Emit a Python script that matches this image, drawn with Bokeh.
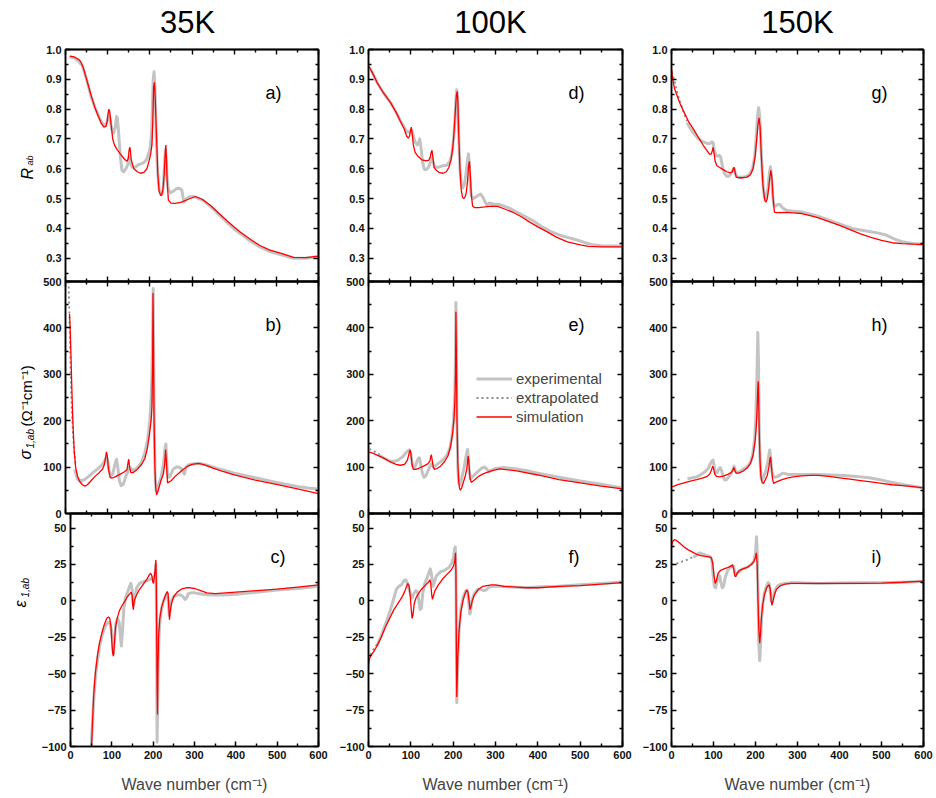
from math import pi
from bokeh.plotting import figure
from bokeh.layouts import column, row
from bokeh.models import (LinearAxis, FixedTicker, Label, Legend, LegendItem,
                          Range1d, NumeralTickFormatter)
from bokeh.embed import file_html
from bokeh.resources import INLINE

# ------------------------------------------------------------------ data
# 35 K  reflectivity R_ab
R35_SIM_X = [10, 20, 30, 36, 42, 48, 55, 62, 70, 78, 85, 91, 96, 99, 101, 103, 105, 108, 112, 116, 122, 130, 140,
             146, 149, 151, 153, 156, 162, 170, 178, 186, 193, 198, 202, 205, 207, 209, 211, 213, 216, 219, 222,
             226, 228, 231, 234, 236, 238, 239.5, 241, 244, 250, 260, 275, 290, 308, 325, 344, 363, 383, 400, 415,
             440, 462, 485, 510, 541, 570, 600]
R35_SIM_Y = [0.978, 0.975, 0.968, 0.96, 0.94, 0.91, 0.875, 0.84, 0.805, 0.775, 0.752, 0.74, 0.742, 0.76, 0.785,
             0.80, 0.79, 0.75, 0.70, 0.68, 0.665, 0.65, 0.632, 0.625, 0.635, 0.665, 0.672, 0.63, 0.60, 0.59, 0.585,
             0.588, 0.60, 0.625, 0.65, 0.68, 0.76, 0.875, 0.89, 0.83, 0.70, 0.58, 0.525, 0.51, 0.512, 0.53, 0.58,
             0.64, 0.68, 0.63, 0.56, 0.495, 0.485, 0.484, 0.488, 0.497, 0.507, 0.497, 0.477, 0.452, 0.426, 0.405,
             0.387, 0.362, 0.342, 0.327, 0.317, 0.303, 0.302, 0.307]
R35_EXP_X = [10, 20, 30, 40, 50, 60, 70, 80, 88, 94, 98, 101, 103, 106, 110, 114, 118, 121, 123, 126, 130, 134,
             138, 143, 148, 151, 154, 158, 165, 175, 185, 192, 197, 201, 204, 206, 208, 210, 212, 215, 218, 222,
             226, 229, 232, 235, 237, 239, 241, 244, 249, 256, 263, 270, 276, 279, 281, 285, 292, 305, 325, 344,
             363, 383, 400, 420, 440, 462, 485, 510, 540, 570, 600]
R35_EXP_Y = [0.975, 0.972, 0.962, 0.945, 0.90, 0.845, 0.805, 0.772, 0.75, 0.745, 0.755, 0.775, 0.785, 0.765,
             0.73, 0.72, 0.74, 0.775, 0.77, 0.72, 0.64, 0.595, 0.59, 0.60, 0.615, 0.64, 0.62, 0.605, 0.605, 0.615,
             0.62, 0.63, 0.65, 0.67, 0.72, 0.80, 0.90, 0.925, 0.88, 0.72, 0.60, 0.53, 0.515, 0.515, 0.54, 0.62,
             0.665, 0.63, 0.57, 0.53, 0.52, 0.525, 0.533, 0.535, 0.528, 0.50, 0.488, 0.497, 0.505, 0.507, 0.495,
             0.474, 0.448, 0.42, 0.398, 0.377, 0.356, 0.337, 0.322, 0.312, 0.300, 0.300, 0.305]

# 35 K  conductivity sigma_1,ab
S35_SIM_X = [9.5, 11, 13, 15, 17, 19, 21, 24, 28, 33, 40, 46, 52, 60, 70, 80, 88, 92, 95, 97, 99, 102, 106, 110,
             120, 130, 140, 146, 148, 150, 152, 155, 160, 170, 180, 188, 194, 199, 203, 205, 206.5, 207.5, 208.5,
             210, 212, 214, 216, 220, 226, 232, 235, 237.5, 240, 242, 250, 260, 270, 280, 290, 300, 315, 330, 350,
             375, 400, 450, 500, 550, 600]
S35_SIM_Y = [430, 400, 340, 270, 210, 165, 130, 100, 82, 70, 62, 59, 62, 70, 80, 88, 96, 105, 120, 133, 125, 95,
             78, 76, 80, 85, 90, 95, 108, 117, 100, 88, 88, 95, 105, 118, 140, 170, 200, 230, 320, 475, 390, 200,
             100, 55, 40, 50, 70, 85, 105, 138, 100, 66, 70, 80, 88, 96, 102, 106, 108, 105, 98, 90, 83, 72, 63, 53,
             43]
S35_EXP_X = [22, 28, 35, 45, 55, 65, 75, 85, 92, 96, 99, 103, 107, 112, 117, 121, 124, 128, 132, 137, 143, 148,
             152, 160, 170, 180, 188, 195, 200, 203, 205, 207, 208, 209, 211, 213, 215, 218, 222, 227, 232, 236,
             238, 240, 243, 248, 255, 262, 268, 273, 278, 282, 286, 292, 305, 320, 340, 360, 380, 400, 450, 500,
             550, 575, 600]
S35_EXP_Y = [95, 75, 70, 73, 80, 88, 95, 103, 112, 120, 118, 95, 80, 85, 105, 117, 100, 70, 60, 63, 80, 90, 100,
             92, 98, 110, 130, 160, 200, 250, 300, 420, 485, 350, 150, 70, 50, 55, 65, 80, 105, 140, 150, 110, 78,
             80, 95, 100, 100, 98, 92, 85, 100, 105, 107, 108, 103, 97, 92, 87, 77, 67, 58, 55, 53]
S35_EXT_X = [7, 8, 9.5, 11, 13, 16, 20, 24]
S35_EXT_Y = [500, 470, 420, 350, 270, 200, 140, 105]

# 35 K  dielectric function eps_1,ab
E35_SIM_X = [51, 53, 56, 60, 65, 70, 76, 82, 88, 92, 95, 98, 100, 102, 104, 106, 109, 113, 118, 125, 132, 138,
             144, 147, 149, 150.5, 152, 154, 158, 165, 175, 185, 191, 194, 197, 199, 201, 203, 205, 206.5, 207.5,
             208.5, 209.5, 210.5, 211.5, 213, 216, 220, 225, 230, 234, 236, 238, 239.5, 241, 244, 250, 258, 268,
             280, 290, 300, 315, 330, 350, 375, 400, 450, 500, 550, 600]
E35_SIM_Y = [-100, -85, -65, -50, -38, -29, -22, -16, -12, -11, -12, -18, -28, -36, -38, -30, -18, -12, -7, -3, 0,
             3, 5, 6, 4, -3, -6, 0, 3, 7, 11, 15, 18, 19, 17, 13, 12, 17, 22, 28, 15, -20, -60, -78, -50, -25, -12,
             -5, 0, 4, 6.5, 5, -5, -13, -8, -2, 3, 6, 8, 9, 9, 8.5, 7, 5.5, 5, 5.5, 6, 7, 8, 9.5, 11]
E35_EXP_X = [50, 54, 58, 63, 70, 78, 85, 90, 95, 99, 102, 104, 107, 110, 114, 118, 121, 123, 126, 129, 133, 138,
             143, 146, 149, 151, 153, 156, 160, 167, 175, 185, 195, 200, 203, 205, 206.5, 207.5, 208.5, 209.5,
             210.5, 212, 214, 217, 222, 228, 233, 235, 237, 239, 241, 244, 250, 258, 266, 272, 277, 281, 285, 292,
             300, 320, 340, 370, 400, 450, 500, 550, 600]
E35_EXP_Y = [-100, -80, -60, -45, -32, -22, -17, -15, -15, -20, -30, -36, -25, -15, -12, -15, -25, -31, -20, -5, 2,
             6, 10, 12, 8, 0, -3, 3, 9, 12, 13, 14, 15, 16, 15, 20, 25, 5, -40, -97, -80, -45, -25, -12, -3, 2, 5,
             4, -2, -10, -6, 0, 3, 4, 4, 3, 1, 2, 5, 5.5, 5.5, 4.5, 4, 4, 4.5, 6, 7.5, 8.5, 10]

# 100 K  reflectivity
R100_SIM_X = [0, 10, 20, 35, 52, 65, 75, 84, 90, 94, 97, 99, 101, 103, 106, 110, 118, 126, 134, 142, 146, 148, 150,
              152, 155, 160, 168, 176, 184, 190, 195, 199, 202, 205, 207.5, 209.5, 211, 213, 216, 219, 222, 225,
              228, 231, 234, 236.5, 238.5, 240.5, 243, 246, 250, 260, 275, 290, 305, 320, 340, 360, 380, 400, 420,
              445, 470, 500, 520, 550, 600]
R100_SIM_Y = [0.945, 0.92, 0.89, 0.855, 0.822, 0.79, 0.76, 0.735, 0.71, 0.703, 0.71, 0.725, 0.74, 0.72, 0.68,
              0.655, 0.64, 0.63, 0.627, 0.628, 0.64, 0.655, 0.662, 0.64, 0.605, 0.595, 0.587, 0.585, 0.59, 0.605,
              0.63, 0.67, 0.72, 0.79, 0.845, 0.86, 0.83, 0.72, 0.60, 0.53, 0.505, 0.50, 0.505, 0.52, 0.56, 0.61,
              0.625, 0.58, 0.51, 0.475, 0.47, 0.47, 0.472, 0.475, 0.474, 0.466, 0.455, 0.44, 0.422, 0.405, 0.39,
              0.37, 0.355, 0.345, 0.34, 0.338, 0.338]
R100_EXP_X = [0, 10, 20, 35, 52, 65, 75, 84, 90, 95, 99, 102, 106, 110, 115, 119, 121, 124, 128, 132, 137, 142,
              147, 150, 153, 157, 165, 175, 185, 192, 197, 201, 204, 206, 208.5, 210.5, 213, 216, 219, 222, 226,
              230, 233, 236, 238, 240, 243, 247, 253, 260, 265, 270, 275, 280, 285, 295, 310, 330, 350, 370, 390,
              410, 430, 450, 470, 490, 510, 530, 550, 575, 600]
R100_EXP_Y = [0.945, 0.92, 0.89, 0.855, 0.823, 0.79, 0.762, 0.74, 0.725, 0.722, 0.728, 0.73, 0.71, 0.69, 0.68,
              0.69, 0.70, 0.67, 0.62, 0.598, 0.598, 0.605, 0.625, 0.635, 0.62, 0.605, 0.605, 0.61, 0.612, 0.625,
              0.65, 0.70, 0.76, 0.82, 0.865, 0.84, 0.72, 0.60, 0.55, 0.535, 0.545, 0.58, 0.62, 0.65, 0.62, 0.55,
              0.51, 0.50, 0.505, 0.512, 0.515, 0.505, 0.49, 0.478, 0.485, 0.482, 0.48, 0.47, 0.455, 0.44, 0.425,
              0.405, 0.39, 0.378, 0.37, 0.362, 0.353, 0.345, 0.342, 0.341, 0.341]

# 100 K  conductivity
S100_SIM_X = [0, 10, 20, 35, 50, 65, 75, 85, 92, 96, 98, 100, 103, 106, 112, 120, 130, 140, 145, 147, 148.5, 150,
              153, 156, 162, 170, 180, 188, 194, 199, 202, 204, 205.5, 206.5, 207.5, 209, 211, 213, 215, 217, 220,
              225, 229, 232, 234, 235.5, 237.5, 240, 243, 250, 260, 272, 290, 310, 350, 400, 450, 500, 550, 600]
S100_SIM_Y = [133, 130, 126, 120, 112, 106, 104, 106, 115, 130, 137, 130, 105, 95, 95, 98, 102, 107, 113, 122, 127,
              118, 100, 95, 97, 102, 112, 125, 145, 175, 205, 240, 300, 435, 350, 200, 110, 70, 55, 50, 55, 70, 82,
              95, 112, 124, 105, 75, 67, 72, 80, 86, 92, 96, 92, 83, 73, 66, 59, 53]
S100_EXP_X = [24, 35, 50, 60, 70, 80, 88, 93, 97, 100, 104, 108, 113, 117, 120, 123, 127, 131, 136, 142, 147, 150,
              153, 157, 165, 175, 185, 192, 197, 201, 204, 205.5, 206.5, 207.5, 209, 211, 213, 216, 220, 225, 229,
              232, 234, 236, 238, 241, 245, 252, 260, 268, 275, 280, 285, 290, 300, 320, 350, 375, 400, 450, 500,
              530, 550, 575, 600]
S100_EXP_Y = [126, 120, 113, 112, 115, 122, 130, 135, 137, 128, 102, 97, 108, 118, 120, 108, 88, 78, 82, 95, 105,
              108, 100, 102, 108, 115, 125, 140, 165, 200, 260, 350, 455, 380, 200, 100, 65, 62, 75, 95, 115, 130,
              138, 115, 90, 75, 78, 85, 92, 98, 100, 95, 90, 93, 97, 99, 96, 92, 87, 78, 70, 66, 63, 59, 55]
S100_EXT_X = [2, 8, 14, 20, 26]
S100_EXT_Y = [139, 137, 134, 130, 127]

# 100 K  dielectric function
E100_SIM_X = [0, 2, 5, 12, 20, 30, 40, 50, 60, 70, 78, 85, 90, 93, 96, 99, 101, 103, 105, 108, 112, 118, 125, 135,
              142, 145, 147, 149, 151, 153, 157, 165, 175, 185, 195, 201, 204, 205.5, 206.5, 207.5, 208.5, 209.5,
              211, 214, 218, 223, 228, 232, 235, 237.5, 240, 242, 245, 250, 260, 270, 280, 290, 300, 320, 350, 375,
              400, 450, 500, 550, 600]
E100_SIM_Y = [-45, -40, -38, -35, -31, -25, -18, -12, -6, -1.5, 2, 6, 10, 12, 10, 2, -6, -12, -10, -2, 2, 5, 8, 11,
              13, 14.5, 12, 5, 1, 3, 7, 11, 15, 18, 21, 24, 28, 33, 20, -30, -66, -55, -38, -20, -8, 0, 5, 7.5, 6,
              0, -6, -4, 0, 4, 8, 10, 10.5, 11, 11, 10, 9.5, 9, 9, 10, 10.5, 11.5, 12.5]
E100_EXP_X = [20, 30, 40, 50, 60, 66, 72, 78, 84, 88, 92, 96, 100, 103, 107, 112, 116, 119, 122, 125, 128, 133,
              140, 146, 149, 152, 155, 160, 170, 180, 190, 197, 201, 203.5, 205, 206.5, 207.5, 208.5, 209.5, 211,
              214, 218, 224, 230, 233, 236, 239, 241, 244, 250, 258, 265, 272, 278, 285, 295, 310, 340, 370, 400,
              450, 500, 550, 600]
E100_EXP_Y = [-31, -24, -16, -8, 2, 8, 10, 11, 14, 14.5, 12, 8, 4, 2, 5, 7, 6, 0, -6, -5, 5, 12, 17, 22, 18, 10,
              12, 17, 20, 21, 23, 26, 30, 36, 37, 20, -30, -70, -60, -40, -20, -6, 3, 7, 7.5, 2, -9, -8, 0, 5, 8, 8,
              7, 7.5, 9.5, 10, 10, 9.5, 9, 9.5, 10, 11, 12, 13]
E100_EXT_X = [5, 10, 15, 20, 25]
E100_EXT_Y = [-37, -34, -32, -30, -28]

# 150 K  reflectivity
R150_SIM_X = [0, 3, 7, 12, 20, 28, 40, 52, 64, 76, 85, 91, 95, 97, 99, 101, 104, 108, 114, 122, 132, 140, 145, 147,
              149, 151, 154, 160, 170, 180, 188, 194, 199, 203, 206, 208.5, 211, 214, 218, 222, 225, 228, 231, 234,
              236.5, 239, 242, 245, 250, 270, 290, 310, 330, 350, 370, 400, 425, 450, 475, 500, 525, 550, 575, 600]
R150_SIM_Y = [0.935, 0.90, 0.87, 0.85, 0.82, 0.795, 0.76, 0.734, 0.705, 0.678, 0.66, 0.648, 0.65, 0.66, 0.672,
              0.655, 0.625, 0.61, 0.605, 0.598, 0.59, 0.586, 0.59, 0.60, 0.605, 0.59, 0.572, 0.57, 0.57, 0.572, 0.58,
              0.60, 0.64, 0.70, 0.75, 0.771, 0.74, 0.64, 0.54, 0.495, 0.488, 0.50, 0.53, 0.57, 0.595, 0.57, 0.50,
              0.455, 0.453, 0.454, 0.452, 0.45, 0.443, 0.435, 0.425, 0.41, 0.396, 0.382, 0.37, 0.36, 0.352, 0.349,
              0.347, 0.346]
R150_EXP_X = [37, 45, 55, 65, 75, 85, 92, 96, 99, 102, 106, 110, 114, 117, 121, 126, 131, 137, 142, 146, 149, 152,
              156, 165, 175, 185, 193, 198, 202, 205, 207.5, 210, 213, 217, 221, 224, 227, 230, 233, 235.5, 238,
              241, 244, 248, 253, 258, 265, 275, 290, 310, 330, 350, 370, 390, 410, 430, 450, 470, 490, 510, 530,
              550, 570, 600]
R150_EXP_Y = [0.755, 0.735, 0.715, 0.70, 0.69, 0.685, 0.685, 0.69, 0.688, 0.66, 0.645, 0.642, 0.645, 0.64, 0.61,
              0.585, 0.575, 0.575, 0.585, 0.595, 0.602, 0.585, 0.573, 0.572, 0.573, 0.58, 0.60, 0.64, 0.71, 0.78,
              0.805, 0.78, 0.68, 0.56, 0.505, 0.50, 0.51, 0.54, 0.585, 0.607, 0.58, 0.51, 0.475, 0.475, 0.48, 0.48,
              0.468, 0.46, 0.458, 0.455, 0.448, 0.44, 0.43, 0.42, 0.41, 0.40, 0.395, 0.39, 0.385, 0.378, 0.365,
              0.355, 0.35, 0.347]
R150_EXT_X = [1, 5, 9, 13, 18, 24, 30, 37]
R150_EXT_Y = [0.925, 0.905, 0.885, 0.86, 0.835, 0.81, 0.785, 0.76]

# 150 K  conductivity
S150_SIM_X = [0, 15, 30, 45, 60, 75, 85, 91, 95, 98, 100, 103, 107, 115, 125, 135, 142, 146, 148.5, 151, 154, 160,
              170, 180, 188, 194, 199, 202, 204, 205.5, 206.5, 207.5, 209, 211, 213, 216, 219, 223, 228, 232,
              234.5, 236, 238, 240.5, 243, 250, 260, 275, 290, 310, 330, 350, 375, 400, 425, 450, 475, 500, 525,
              550, 575, 600]
S150_SIM_Y = [57, 62, 66, 70, 73, 77, 80, 85, 93, 102, 98, 85, 80, 79, 81, 85, 88, 93, 99, 92, 87, 87, 91, 98, 108,
              125, 155, 190, 230, 270, 285, 250, 170, 110, 80, 66, 65, 72, 82, 100, 118, 122, 100, 75, 65, 68, 72,
              76, 79, 81, 82, 82, 80, 77, 74, 71, 68, 65, 62, 60, 58, 55]
S150_EXP_X = [38, 50, 60, 70, 80, 88, 93, 96, 99, 102, 105, 109, 113, 116, 119, 123, 127, 131, 137, 143, 146, 149,
              152, 155, 162, 170, 180, 188, 193, 198, 201, 203.5, 205.5, 207, 209, 211, 213, 215, 219, 224, 229,
              232, 234, 236, 239, 242, 247, 253, 260, 265, 270, 278, 290, 310, 330, 350, 380, 410, 440, 470, 500,
              520, 540, 560, 580, 600]
S150_EXP_Y = [75, 77, 79, 84, 90, 98, 108, 113, 115, 100, 87, 88, 96, 99, 93, 80, 72, 73, 80, 88, 95, 102, 92, 88,
              90, 95, 100, 110, 125, 160, 210, 300, 390, 330, 180, 110, 80, 72, 78, 90, 110, 128, 137, 120, 90, 80,
              78, 80, 84, 87, 86, 84, 84, 84, 84, 84, 83, 82, 80, 77, 72, 68, 64, 61, 58, 55]
S150_EXT_X = [15, 19]
S150_EXT_Y = [73, 73]

# 150 K  dielectric function
E150_SIM_X = [0, 3, 7, 12, 20, 30, 40, 50, 60, 70, 80, 90, 95, 98, 101, 104, 107, 111, 117, 125, 135, 142, 145.5,
              148, 151, 153, 156, 162, 170, 180, 190, 196, 200, 202, 204, 206, 208, 210, 212, 214, 217, 221, 226,
              230, 232.5, 235, 237.5, 239, 241, 245, 250, 260, 270, 285, 300, 350, 400, 450, 500, 550, 600]
E150_SIM_Y = [38, 41, 42, 41.5, 39.5, 37, 35, 33.5, 32, 31, 30.5, 30.2, 29.5, 26, 18, 12, 14, 19, 21, 22, 23, 24,
              24.5, 22, 17, 16.5, 19, 21, 22, 23, 25, 27, 30, 33, 25, 0, -20, -29, -22, -12, -3, 4, 8.5, 10.5, 11, 8,
              0, -3, -1, 4, 8, 10.5, 11.5, 12, 12, 12, 12, 12, 12.2, 12.8, 13.5]
E150_EXP_X = [52, 58, 63, 68, 75, 85, 92, 96, 99, 102, 105, 108, 112, 115, 118, 121, 124, 128, 134, 140, 145, 148,
              151, 154, 160, 170, 180, 190, 196, 200, 202.5, 204.5, 206, 208, 210, 212, 214, 217, 221, 226, 230,
              232.5, 235, 237.5, 239.5, 242, 246, 252, 260, 270, 285, 300, 350, 400, 450, 500, 550, 600]
E150_EXP_Y = [30, 31, 32.5, 33, 32, 31, 30.5, 28, 18, 10, 9, 13, 18, 17, 12, 9, 10, 16, 21, 23, 24.5, 24, 19, 18,
              20, 22, 23, 25, 27, 33, 44, 30, 5, -30, -41, -30, -15, -3, 5, 10, 12.5, 12, 7, 0, -1, 2, 7, 10, 11.5,
              12, 12.5, 12.5, 12, 12.3, 12.5, 12.5, 12.8, 13.3]
E150_EXT_X = [0, 10, 20, 30, 40, 50]
E150_EXT_Y = [25, 25.5, 26.5, 27.5, 28.5, 30]

TEMPS = ["35K", "100K", "150K"]
LETTERS = [["a)", "b)", "c)"], ["d)", "e)", "f)"], ["g)", "h)", "i)"]]
X_MAJOR = [0, 100, 200, 300, 400, 500, 600]
X_MINOR = [50, 150, 250, 350, 450, 550]
Y_RANGES = [(0.222, 1.0), (0, 500), (-100, 60)]
Y_MAJOR = [[0.3, 0.4, 0.5, 0.6, 0.7, 0.8, 0.9, 1.0],
           [0, 100, 200, 300, 400, 500],
           [-100, -75, -50, -25, 0, 25, 50]]
Y_MINOR = [[0.25, 0.35, 0.45, 0.55, 0.65, 0.75, 0.85, 0.95],
           [50, 150, 250, 350, 450],
           [-87.5, -62.5, -37.5, -12.5, 12.5, 37.5]]
X_TITLE = "Wave number (cm\u207b\u00b9)"
LEGEND_LABELS = ["experimental", "extrapolated", "simulation"]
# y-axis titles: (text, size, style) pieces per row
Y_TITLES = [
    [("R", "16px", "italic"), ("ab", "9px", "italic")],
    [("\u03c3", "16px", "italic"), ("1,ab", "10px", "italic"), ("(\u03a9\u207b\u00b9cm\u207b\u00b9)", "15px", "normal")],
    [("\u03b5", "16px", "italic"), ("1,ab", "10px", "italic")],
]
# placement of the pieces (x centre, y start) in the title strip, screen px
Y_TITLE_POS = [
    [(26.5, 102), (29, 116)],
    [(25, 54), (29.5, 65), (25.5, 87)],
    [(19.5, 139), (24.5, 149)],
]
# temperature headers: x centre in page px
HEADER_X = [187, 490, 797]

SERIES = [
    [(R35_EXP_X, R35_EXP_Y, None, None, R35_SIM_X, R35_SIM_Y),
     (S35_EXP_X, S35_EXP_Y, S35_EXT_X, S35_EXT_Y, S35_SIM_X, S35_SIM_Y),
     (E35_EXP_X, E35_EXP_Y, None, None, E35_SIM_X, E35_SIM_Y)],
    [(R100_EXP_X, R100_EXP_Y, None, None, R100_SIM_X, R100_SIM_Y),
     (S100_EXP_X, S100_EXP_Y, S100_EXT_X, S100_EXT_Y, S100_SIM_X, S100_SIM_Y),
     (E100_EXP_X, E100_EXP_Y, E100_EXT_X, E100_EXT_Y, E100_SIM_X, E100_SIM_Y)],
    [(R150_EXP_X, R150_EXP_Y, R150_EXT_X, R150_EXT_Y, R150_SIM_X, R150_SIM_Y),
     (S150_EXP_X, S150_EXP_Y, S150_EXT_X, S150_EXT_Y, S150_SIM_X, S150_SIM_Y),
     (E150_EXP_X, E150_EXP_Y, E150_EXT_X, E150_EXT_Y, E150_SIM_X, E150_SIM_Y)],
]

# ------------------------------------------------------------------ layout / style
FONT = "Liberation Sans"
PAGE_W = 936
HEADER_H = 57
STRIP_W = 38
COL_LEFT = [27, 40, 39]
COL_RIGHT = [10, 10, 13]
COL_FRAME_W = [253, 254, 252]
ROW_TOP = [8, 8, 8]
ROW_BOTTOM = [8, 8, 52]
ROW_FRAME_H = [232, 232, 233]
OVERLAP = 16
EXP_COLOR = "#c3c3c3"
EXT_COLOR = "#8a8a8a"
SIM_COLOR = "#ff0000"


def blank_figure(w, h):
    f = figure(width=w, height=h, x_range=Range1d(0, 1), y_range=Range1d(0, 1),
               output_backend="svg", toolbar_location=None, title=None,
               x_axis_location=None, y_axis_location=None,
               min_border_left=0, min_border_right=0, min_border_top=0, min_border_bottom=0)
    f.xgrid.visible = False
    f.ygrid.visible = False
    f.outline_line_color = None
    f.background_fill_alpha = 0
    f.border_fill_alpha = 0
    return f


def style_common(ax):
    ax.axis_line_color = "black"
    ax.axis_line_width = 1.5
    ax.major_tick_in = 5
    ax.major_tick_out = 0
    ax.minor_tick_out = 0
    ax.major_tick_line_width = 1.5
    ax.minor_tick_line_width = 1.4
    ax.major_tick_line_color = "black"
    ax.minor_tick_line_color = "black"


def style_label_axis(ax, ticker, fmt=None):
    style_common(ax)
    ax.ticker = ticker
    ax.minor_tick_in = 3
    ax.major_label_text_font = FONT
    ax.major_label_text_font_size = "11px"
    ax.major_label_text_font_style = "bold"
    ax.major_label_text_color = "#111111"
    ax.major_label_standoff = 4
    if fmt is not None:
        ax.formatter = fmt


def style_tick_axis(ax, positions, length):
    # an axis that shows only tick marks (no major ticks -> no labels at all)
    style_common(ax)
    ax.ticker = FixedTicker(ticks=[], minor_ticks=positions)
    ax.minor_tick_in = length
    ax.major_label_standoff = 0
    ax.axis_label = None


def add_tick_axes(p, side, major, minor):
    for pos, length in ((major, 5), (minor, 3)):
        ax = LinearAxis()
        style_tick_axis(ax, pos, length)
        p.add_layout(ax, side)


def make_panel(c, r):
    w = COL_LEFT[c] + COL_FRAME_W[c] + COL_RIGHT[c]
    h = ROW_TOP[r] + ROW_FRAME_H[r] + ROW_BOTTOM[r]
    p = figure(width=w, height=h, x_range=Range1d(0, 600), y_range=Range1d(*Y_RANGES[r]),
               output_backend="svg", toolbar_location=None, title=None,
               min_border_left=COL_LEFT[c], min_border_right=COL_RIGHT[c],
               min_border_top=ROW_TOP[r], min_border_bottom=ROW_BOTTOM[r],
               x_axis_location="below" if r == 2 else None)
    p.xgrid.visible = False
    p.ygrid.visible = False
    p.background_fill_alpha = 0
    p.border_fill_alpha = 0
    p.outline_line_color = "black"
    p.outline_line_width = 1.5

    fmt = NumeralTickFormatter(format="0.0") if r == 0 else None
    style_label_axis(p.yaxis[0], FixedTicker(ticks=Y_MAJOR[r], minor_ticks=Y_MINOR[r]), fmt)
    if r == 2:
        xa = p.xaxis[0]
        style_label_axis(xa, FixedTicker(ticks=X_MAJOR, minor_ticks=X_MINOR))
        xa.axis_label = X_TITLE
        xa.axis_label_text_font = FONT
        xa.axis_label_text_font_size = "16px"
        xa.axis_label_text_font_style = "normal"
        xa.axis_label_standoff = 14
    else:
        add_tick_axes(p, "below", X_MAJOR, X_MINOR)
    add_tick_axes(p, "above", X_MAJOR, X_MINOR)
    add_tick_axes(p, "right", Y_MAJOR[r], Y_MINOR[r])

    ex, ey, tx, ty, sx, sy = SERIES[c][r]
    r_exp = p.line(ex, ey, line_color=EXP_COLOR, line_width=3, line_join="round")
    r_ext = None
    if tx is not None:
        r_ext = p.line(tx, ty, line_color=EXT_COLOR, line_width=1.8, line_dash="2 3")
    r_sim = p.line(sx, sy, line_color=SIM_COLOR, line_width=1.3)

    p.add_layout(Label(x=200, y=ROW_FRAME_H[r] - 43, x_units="screen", y_units="screen",
                       text=LETTERS[c][r], text_font=FONT, text_font_size="18px",
                       text_color="black", text_align="left", text_baseline="middle"))

    if c == 1 and r == 1:
        items = [LegendItem(label=LEGEND_LABELS[0], renderers=[r_exp]),
                 LegendItem(label=LEGEND_LABELS[1], renderers=[r_ext]),
                 LegendItem(label=LEGEND_LABELS[2], renderers=[r_sim])]
        leg = Legend(items=items, location=(108, 87), orientation="vertical",
                     border_line_alpha=0, background_fill_alpha=0,
                     label_text_font=FONT, label_text_font_size="15px",
                     glyph_width=36, glyph_height=19, label_height=19,
                     spacing=0, padding=0, margin=0, label_standoff=4)
        p.add_layout(leg)
    return p


def make_title_strip(r):
    h = ROW_TOP[r] + ROW_FRAME_H[r] + ROW_BOTTOM[r]
    t = blank_figure(STRIP_W, h)
    for (text, size, style), (x, y) in zip(Y_TITLES[r], Y_TITLE_POS[r]):
        t.add_layout(Label(x=x, y=y, x_units="screen", y_units="screen", text=text,
                           angle=pi / 2, text_font=FONT, text_font_size=size,
                           text_font_style=style, text_color="black",
                           text_align="left", text_baseline="middle"))
    return t


def make_header():
    hd = blank_figure(PAGE_W, HEADER_H)
    for x, text in zip(HEADER_X, TEMPS):
        hd.add_layout(Label(x=x, y=HEADER_H - 21.5, x_units="screen", y_units="screen", text=text,
                            text_font=FONT, text_font_size="31px", text_color="black",
                            text_align="center", text_baseline="middle"))
    return hd


children = [make_header()]
for r in range(3):
    figs = [make_title_strip(r)] + [make_panel(c, r) for c in range(3)]
    children.append(row(*figs, margin=(-OVERLAP, 0, 0, 0)))

layout = column(*children)
open("out.html", "w").write(file_html(layout, INLINE, title="Optical spectra"))
